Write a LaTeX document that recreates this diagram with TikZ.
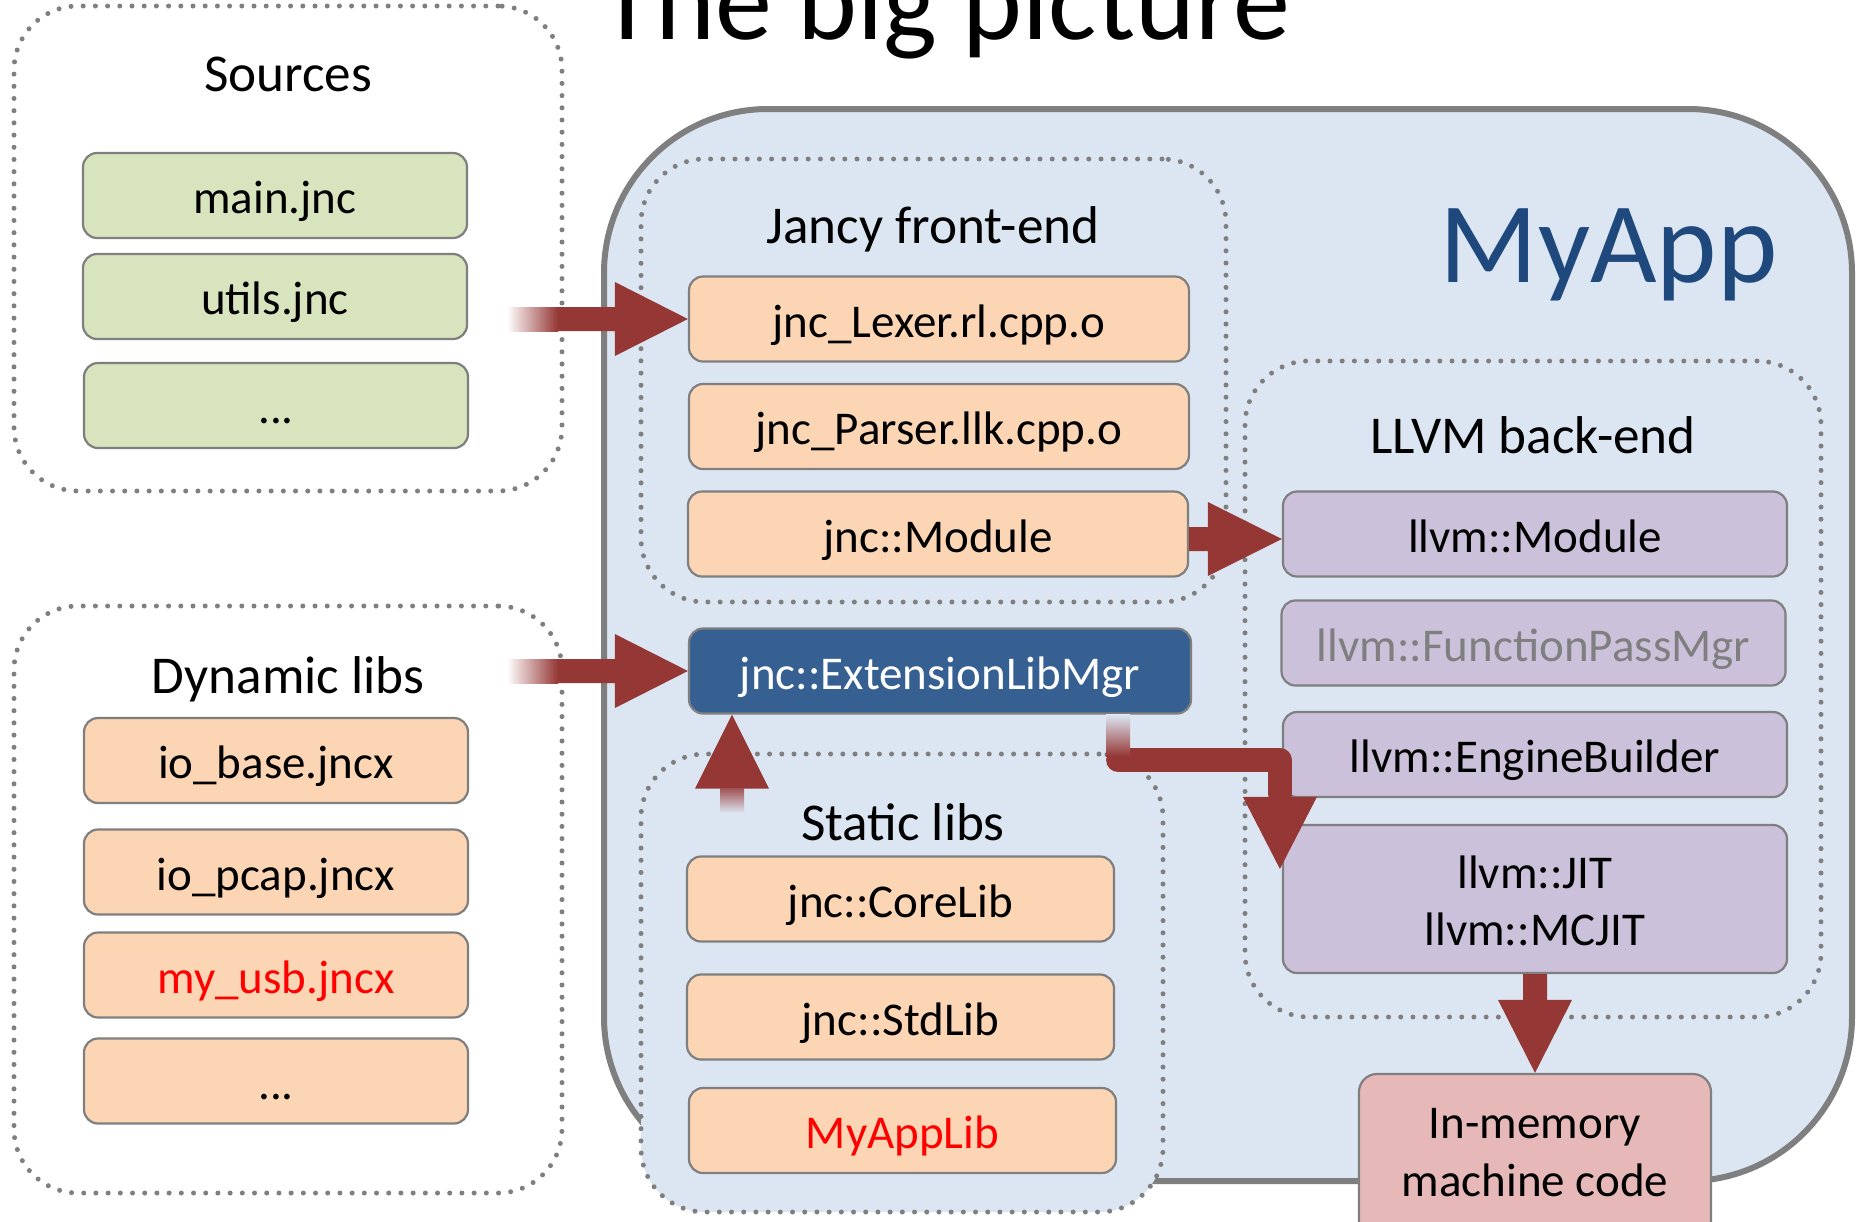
\documentclass[tikz,border=0pt]{standalone}
\usepackage{fontspec}
\setmainfont{Carlito}
\usetikzlibrary{calc}
\definecolor{arrowred}{HTML}{953735}
\definecolor{appfill}{HTML}{DCE6F2}
\definecolor{lineg}{HTML}{7F7F7F}
\definecolor{greenfill}{HTML}{D7E4BD}
\definecolor{orangefill}{HTML}{FCD5B5}
\definecolor{purplefill}{HTML}{CCC1DA}
\definecolor{bluefill}{HTML}{376092}
\definecolor{pinkfill}{HTML}{E6B9B8}
\definecolor{apptext}{HTML}{1F497D}
\definecolor{redtext}{HTML}{FF0000}
\tikzset{
  appbox/.style={draw=lineg, fill=appfill, line width=3pt, rounded corners=82pt, inner sep=0pt},
  group/.style={draw=lineg, line width=2.5pt, dash pattern=on 0pt off 6.1pt, line cap=round, rounded corners=32pt, inner sep=0pt},
  box/.style={draw=lineg, line width=1.1pt, rounded corners=7pt, inner sep=0pt,
    font=\fontsize{23.5}{28}\selectfont, text height=22pt, text depth=4pt},
  lbox/.style={box, minimum width=192pt, minimum height=42.5pt},
  jbox/.style={box, minimum width=250pt, minimum height=42.5pt, fill=orangefill},
  vbox/.style={box, minimum width=252pt, minimum height=42.5pt, fill=purplefill},
  sbox/.style={box, minimum width=213.5pt, minimum height=42.5pt, fill=orangefill},
  hdr/.style={font=\fontsize{26.6}{31}\selectfont, inner sep=0pt, anchor=base},
  btxt/.style={font=\fontsize{23.5}{28}\selectfont, inner sep=0pt, anchor=base},
}
\begin{document}
\begin{tikzpicture}[x=0.5pt,y=-0.5pt]
\clip (0,0) rectangle (1858,1221);
\fill[white] (0,0) rectangle (1858,1221);

% MyApp container
\node[appbox, minimum width=624pt, minimum height=536pt] (app) at (1228,645) {};

% groups
\node[group, minimum width=274pt, minimum height=242.5pt] (src) at (288,248.5) {};
\node[group, minimum width=274pt, minimum height=293.5pt] (dyn) at (288,899.5) {};
\node[group, fill=appfill, minimum width=292.5pt, minimum height=221.5pt] (jfe) at (933.5,380.5) {};
\node[group, fill=appfill, minimum width=288pt, minimum height=328pt] (llb) at (1533,689) {};
\node[group, fill=appfill, minimum width=261pt, minimum height=229pt] (stl) at (902,983) {};

% headers
\node[hdr] (srcT) at (288,91) {Sources};
\node[hdr] (dynT) at (288,693) {Dynamic libs};
\node[hdr] (jfeT) at (933,243) {Jancy front-end};
\node[hdr] (llbT) at (1533,453) {LLVM back-end};
\node[hdr] (stlT) at (903,840) {Static libs};

% sources
\node[lbox, fill=greenfill] (mainj) at (275,195.5) {main.jnc};
\node[lbox, fill=greenfill] (utilsj) at (275,296.5) {utils.jnc};
\node[lbox, fill=greenfill] (srcdots) at (276,405.5) {...};

% dynamic libs
\node[lbox, fill=orangefill] (iobase) at (276,760.5) {io\_base.jncx};
\node[lbox, fill=orangefill] (iopcap) at (276,872) {io\_pcap.jncx};
\node[lbox, fill=orangefill, text=redtext] (myusb) at (276,975) {my\_usb.jncx};
\node[lbox, fill=orangefill] (dyndots) at (276,1081) {...};

% front-end
\node[jbox] (lex) at (939,319) {jnc\_Lexer.rl.cpp.o};
\node[jbox] (par) at (939,426.5) {jnc\_Parser.llk.cpp.o};
\node[jbox] (jmod) at (938,534) {jnc::Module};
\node[jbox, minimum width=251pt, fill=bluefill, text=white] (ext) at (940,671) {jnc::ExtensionLibMgr};

% back-end
\node[vbox] (lmod) at (1535,534) {llvm::Module};
\node[vbox, text=lineg] (fpm) at (1533.5,643) {llvm::FunctionPassMgr};
\node[vbox] (eng) at (1535,754.5) {llvm::EngineBuilder};
\node[vbox, minimum height=74pt] (jit) at (1535,899) {};
\node[btxt] (jitA) at (1535,888) {llvm::JIT};
\node[btxt] (jitB) at (1535,945) {llvm::MCJIT};

% static libs
\node[sbox] (core) at (900.5,899) {jnc::CoreLib};
\node[sbox] (std) at (900.5,1017) {jnc::StdLib};
\node[sbox, text=redtext] (mylib) at (902.5,1130.5) {MyAppLib};

% in-memory
\node[box, fill=pinkfill, minimum width=176pt, minimum height=88pt, rounded corners=9pt] (mem) at (1535,1162) {};
\node[btxt] (memA) at (1535,1138) {In-memory};
\node[btxt] (memB) at (1535,1196) {machine code};

% ---------- arrows ----------
% sources -> lexer
\coordinate (a1s) at (557,0);
\fill[arrowred] let \p1=(lex.west), \p2=(a1s) in
  (\x2,\y1+6pt) -- (\x1-36.5pt,\y1+6pt) -- (\x1-36.5pt,\y1+18.5pt) -- (\p1)
  -- (\x1-36.5pt,\y1-18.5pt) -- (\x1-36.5pt,\y1-6pt) -- (\x2,\y1-6pt) -- cycle;
\shade[left color=white, right color=arrowred] let \p1=(lex.west), \p2=(a1s) in
  (\x2-25pt,\y1+6pt) rectangle (\x2+0.5pt,\y1-6pt);
% dynamic libs -> ext
\fill[arrowred] let \p1=(ext.west), \p2=(a1s) in
  (\x2,\y1+6pt) -- (\x1-36.5pt,\y1+6pt) -- (\x1-36.5pt,\y1+18.5pt) -- (\p1)
  -- (\x1-36.5pt,\y1-18.5pt) -- (\x1-36.5pt,\y1-6pt) -- (\x2,\y1-6pt) -- cycle;
\shade[left color=white, right color=arrowred] let \p1=(ext.west), \p2=(a1s) in
  (\x2-25pt,\y1+6pt) rectangle (\x2+0.5pt,\y1-6pt);
% jnc::Module -> llvm::Module
\coordinate (a2t) at ($(lmod.west)+(0,5)$);
\fill[arrowred] let \p1=(a2t), \p2=(jmod.east) in
  (\x2,\y1+6pt) -- (\x1-37pt,\y1+6pt) -- (\x1-37pt,\y1+18.5pt) -- (\p1)
  -- (\x1-37pt,\y1-18.5pt) -- (\x1-37pt,\y1-6pt) -- (\x2,\y1-6pt) -- cycle;
% static libs -> ext (upwards)
\coordinate (a4s) at (732,813);
\coordinate (a4t) at (a4s |- ext.south);
\fill[arrowred] let \p1=(a4t), \p2=(a4s) in
  (\x1,\y1) -- (\x1+18.5pt,\y1-37pt) -- (\x1-18.5pt,\y1-37pt) -- cycle;
\shade[top color=arrowred!85!appfill, bottom color=appfill] let \p1=(a4t), \p2=(a4s) in
  (\x1-6pt,\y1-36.8pt) rectangle (\x1+6pt,\y2);
% ext -> JIT (elbow)
\coordinate (a5s) at ($(ext.south east)+(-74,0)$);
\coordinate (a5t) at ($(jit.north west)+(-2,45)$);
\coordinate (a5m) at ($(a5s)+(0,45.5)$);
\draw[arrowred, line width=12pt, line join=round, line cap=round] (a5m) -| ($(a5t)+(0,-75)$);
\fill[arrowred] let \p1=(a5t) in
  (\x1,\y1) -- (\x1+18.5pt,\y1+36pt) -- (\x1-18.5pt,\y1+36pt) -- cycle;
\shade[top color=appfill, bottom color=arrowred] let \p1=(a5s), \p2=(a5m) in
  (\x1-6pt,\y1) rectangle (\x1+6pt,\y2+2pt);
% JIT -> in-memory
\fill[arrowred] let \p1=(mem.north), \p2=(jit.south) in
  (\x1-6pt,\y2) -- (\x1-6pt,\y1+36.5pt) -- (\x1-18.5pt,\y1+36.5pt) -- (\p1)
  -- (\x1+18.5pt,\y1+36.5pt) -- (\x1+6pt,\y1+36.5pt) -- (\x1+6pt,\y2) -- cycle;

% titles
\node[font=\fontsize{57}{68}\selectfont, inner sep=0pt, anchor=base] (title) at (945,39) {The big picture};
\node[font=\fontsize{57.5}{69}\selectfont, text=apptext, inner sep=0pt, anchor=base east] (appT) at (1778,282) {MyApp};
\end{tikzpicture}
\end{document}
